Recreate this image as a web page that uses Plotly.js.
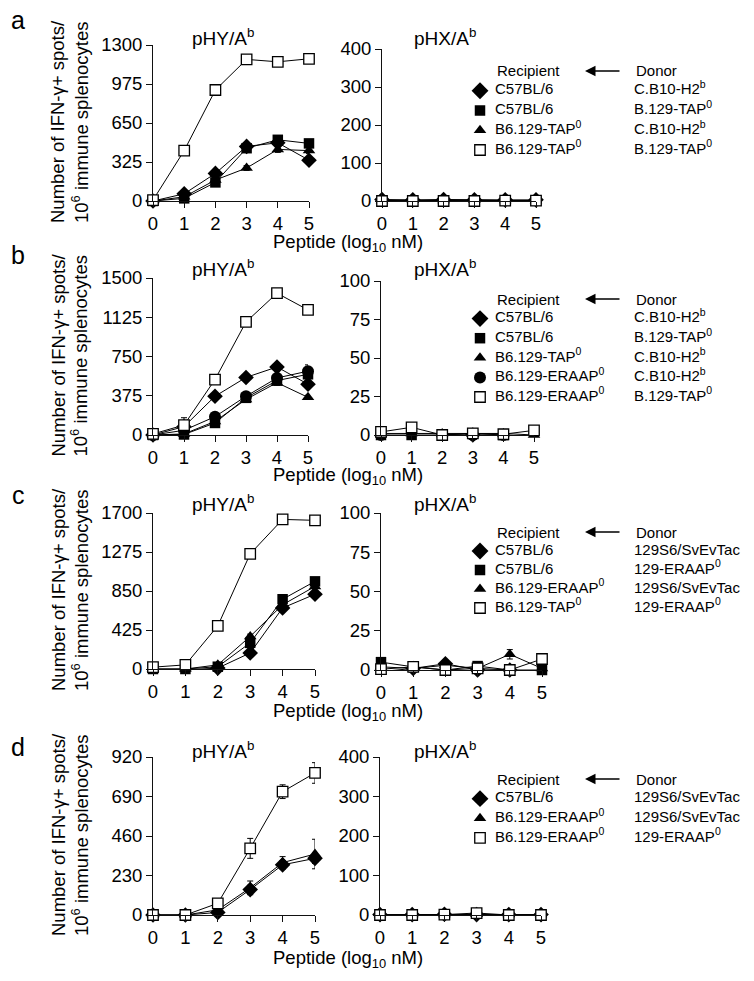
<!DOCTYPE html>
<html><head><meta charset="utf-8">
<script src="https://cdn.plot.ly/plotly-3.0.1.min.js"></script>
<style>html,body{margin:0;padding:0;background:#fff}</style>
</head><body><div id="chart" style="width:754px;height:981px"></div>
<script>
// ---------------- DATA ----------------
const dose = [0, 1, 2, 3, 4, 5];            // Peptide (log10 nM)
const doseTicks = [0, 1, 2, 3, 4, 5];

// Panel a
const aHYTicks = [0, 325, 650, 975, 1300];
const aHXTicks = [0, 100, 200, 300, 400];
const aRecipients = ['C57BL/6', 'C57BL/6', 'B6.129-TAP<sup>0</sup>', 'B6.129-TAP<sup>0</sup>'];
const aDonors = ['C.B10-H2<sup>b</sup>', 'B.129-TAP<sup>0</sup>', 'C.B10-H2<sup>b</sup>', 'B.129-TAP<sup>0</sup>'];
const aMarkers = ['diamond', 'square', 'triangle', 'open'];
const aHY_diamond = [0, 60, 230, 455, 485, 340];
const aHY_square = [0, 22, 155, 440, 510, 480];
const aHY_triangle = [0, 35, 175, 275, 430, 420];
const aHY_open = [8, 420, 925, 1180, 1160, 1185];
const aHYErr_diamond = [5, 15, 20, 20, 25, 25];
const aHYErr_square = [5, 10, 15, 20, 20, 20];
const aHYErr_triangle = [5, 10, 15, 20, 25, 25];
const aHYErr_open = [5, 20, 45, 15, 15, 15];
const aHX_diamond = [4, 3, 4, 3, 3, 3];
const aHX_square = [0, 1, 0, 1, 1, 1];
const aHX_triangle = [1, 2, 1, 2, 1, 1];
const aHX_open = [0, 0, 0, 0, 1, 1];
const aHXErr = [3, 3, 3, 3, 3, 3];

// Panel b
const bHYTicks = [0, 375, 750, 1125, 1500];
const bHXTicks = [0, 25, 50, 75, 100];
const bRecipients = ['C57BL/6', 'C57BL/6', 'B6.129-TAP<sup>0</sup>', 'B6.129-ERAAP<sup>0</sup>', 'B6.129-ERAAP<sup>0</sup>'];
const bDonors = ['C.B10-H2<sup>b</sup>', 'B.129-TAP<sup>0</sup>', 'C.B10-H2<sup>b</sup>', 'C.B10-H2<sup>b</sup>', 'B.129-TAP<sup>0</sup>'];
const bMarkers = ['diamond', 'square', 'triangle', 'circle', 'open'];
const bHY_diamond = [0, 80, 370, 550, 650, 485];
const bHY_square = [0, 5, 115, 355, 520, 580];
const bHY_triangle = [0, 10, 130, 340, 500, 360];
const bHY_circle = [0, 45, 175, 370, 545, 610];
const bHY_open = [10, 95, 530, 1080, 1355, 1195];
const bHYErr_diamond = [5, 15, 20, 25, 20, 25];
const bHYErr_square = [5, 5, 15, 20, 20, 30];
const bHYErr_triangle = [5, 5, 15, 20, 25, 20];
const bHYErr_circle = [5, 10, 15, 20, 30, 60];
const bHYErr_open = [5, 70, 20, 20, 45, 30];
const bHX_diamond = [-2, -2, -1, 0, -1, -2];
const bHX_square = [0, 0, 0, 1, 0, -1];
const bHX_triangle = [1, 1, 1, 1, 1, 0];
const bHX_circle = [0, -1, 0, 0, 0, -1];
const bHX_open = [2, 5, 0, 1, 0.5, 3];
const bHXErr = [1, 1, 1, 1, 1, 1];

// Panel c
const cHYTicks = [0, 425, 850, 1275, 1700];
const cHXTicks = [0, 25, 50, 75, 100];
const cRecipients = ['C57BL/6', 'C57BL/6', 'B6.129-ERAAP<sup>0</sup>', 'B6.129-TAP<sup>0</sup>'];
const cDonors = ['129S6/SvEvTac', '129-ERAAP<sup>0</sup>', '129S6/SvEvTac', '129-ERAAP<sup>0</sup>'];
const cMarkers = ['diamond', 'square', 'triangle', 'open'];
const cHY_diamond = [-15, -10, 10, 175, 665, 815];
const cHY_square = [0, 0, 25, 285, 760, 955];
const cHY_triangle = [0, 0, 45, 355, 700, 900];
const cHY_open = [20, 45, 470, 1255, 1630, 1620];
const cHYErr_diamond = [5, 5, 10, 20, 25, 40];
const cHYErr_square = [5, 5, 10, 20, 20, 30];
const cHYErr_triangle = [5, 5, 10, 25, 20, 30];
const cHYErr_open = [5, 5, 15, 15, 15, 15];
const cHX_diamond = [-1, 1, 4, 0, 0, -1];
const cHX_square = [5, 2, 0, 2.5, 0, 0];
const cHX_triangle = [2, 1, 3, 1, 10, 1];
const cHX_open = [0.5, 2, 0, 1, 0, 7];
const cHXErr_triangle = [1, 1, 1, 1, 3, 1];
const cHXErr = [1, 1, 1, 1, 1, 1];

// Panel d
const dHYTicks = [0, 230, 460, 690, 920];
const dHXTicks = [0, 100, 200, 300, 400];
const dRecipients = ['C57BL/6', 'B6.129-ERAAP<sup>0</sup>', 'B6.129-ERAAP<sup>0</sup>'];
const dDonors = ['129S6/SvEvTac', '129S6/SvEvTac', '129-ERAAP<sup>0</sup>'];
const dMarkers = ['diamond', 'triangle', 'open'];
const dHY_diamond = [0, 0, 15, 148, 292, 330];
const dHY_triangle = [0, 0, 30, 158, 305, 355];
const dHY_open = [0, 0, 68, 388, 718, 827];
const dHYErr_diamond = [5, 5, 10, 25, 25, 30];
const dHYErr_triangle = [5, 5, 10, 40, 35, 86];
const dHYErr_open = [5, 5, 5, 58, 40, 60];
const dHX_diamond = [1, 1, 2, 1, 1, 1];
const dHX_triangle = [1, 1, 1, 2, 1, 1];
const dHX_open = [0, 0, 1, 5, 0, 0];
const dHXErr = [3, 3, 3, 3, 3, 3];

// ---------------- STYLE / LAYOUT ----------------
const W = 754, H = 981;
const FONT = 'Liberation Sans, Arial, Helvetica, sans-serif';
const INK = '#111';
const TICK_SIZE = 18.5, TITLE_SIZE = 19, LEG_SIZE = 15;
const markerStyles = {
  diamond:  {symbol: 'diamond', size: 12, color: '#000', line: {width: 0}},
  square:   {symbol: 'square', size: 10.5, color: '#000', line: {width: 0}},
  triangle: {symbol: 'triangle-up', size: 11, color: '#000', line: {width: 0}},
  circle:   {symbol: 'circle', size: 12, color: '#000', line: {width: 0}},
  open:     {symbol: 'square', size: 10.5, color: '#fff', line: {color: '#000', width: 1.3}}
};

const panels = [
  {letter: 'a', letterY: 20, xTitleY: 243, titleY: 37,
   L: {x: [153, 309], y: [45, 201]}, R: {x: [382, 536], y: [49, 201]}, leg: [61.1, 159.9],
   hyTicks: aHYTicks, hxTicks: aHXTicks, recipients: aRecipients, donors: aDonors, markers: aMarkers,
   hy: [aHY_diamond, aHY_square, aHY_triangle, aHY_open],
   hyErr: [aHYErr_diamond, aHYErr_square, aHYErr_triangle, aHYErr_open],
   hx: [aHX_diamond, aHX_square, aHX_triangle, aHX_open],
   hxErr: [aHXErr, aHXErr, aHXErr, aHXErr]},
  {letter: 'b', letterY: 255, xTitleY: 476, titleY: 268,
   L: {x: [153, 308], y: [278, 435]}, R: {x: [381, 534], y: [281, 435]}, leg: [289.2, 406.8],
   hyTicks: bHYTicks, hxTicks: bHXTicks, recipients: bRecipients, donors: bDonors, markers: bMarkers,
   hy: [bHY_diamond, bHY_square, bHY_triangle, bHY_circle, bHY_open],
   hyErr: [bHYErr_diamond, bHYErr_square, bHYErr_triangle, bHYErr_circle, bHYErr_open],
   hx: [bHX_diamond, bHX_square, bHX_triangle, bHX_circle, bHX_open],
   hxErr: [bHXErr, bHXErr, bHXErr, bHXErr, bHXErr]},
  {letter: 'c', letterY: 495, xTitleY: 712, titleY: 503,
   L: {x: [153, 315], y: [513, 669]}, R: {x: [381, 542], y: [513, 670]}, leg: [522.5, 617.5],
   hyTicks: cHYTicks, hxTicks: cHXTicks, recipients: cRecipients, donors: cDonors, markers: cMarkers,
   hy: [cHY_diamond, cHY_square, cHY_triangle, cHY_open],
   hyErr: [cHYErr_diamond, cHYErr_square, cHYErr_triangle, cHYErr_open],
   hx: [cHX_diamond, cHX_square, cHX_triangle, cHX_open],
   hxErr: [cHXErr, cHXErr, cHXErr_triangle, cHXErr]},
  {letter: 'd', letterY: 747, xTitleY: 959, titleY: 750,
   L: {x: [153, 315], y: [757, 915]}, R: {x: [380, 541], y: [757, 915]}, leg: [769.2, 847.8],
   hyTicks: dHYTicks, hxTicks: dHXTicks, recipients: dRecipients, donors: dDonors, markers: dMarkers,
   hy: [dHY_diamond, dHY_triangle, dHY_open],
   hyErr: [dHYErr_diamond, dHYErr_triangle, dHYErr_open],
   hx: [dHX_diamond, dHX_triangle, dHX_open],
   hxErr: [dHXErr, dHXErr, dHXErr]}
];
const legCols = {symbol: 480, recipient: 495, arrowHead: 585, arrowTail: 621, donor: 634};
const yTitleCols = [58, 80];

const px = v => v / W;
const py = v => 1 - v / H;

const layout = {
  width: W, height: H,
  margin: {l: 0, r: 0, t: 0, b: 0},
  paper_bgcolor: '#fff', plot_bgcolor: 'rgba(0,0,0,0)',
  showlegend: false,
  font: {family: FONT, color: '#000'},
  annotations: []
};
const data = [];

function dataAxis(dom, range, ticks, anchor, isX) {
  return {
    domain: isX ? [px(dom[0]), px(dom[1])] : [py(dom[1]), py(dom[0])],
    range: range, anchor: anchor,
    tickmode: 'array', tickvals: ticks, ticktext: ticks.map(String),
    showline: true, linecolor: INK, linewidth: 1,
    ticks: 'outside', ticklen: 6, tickwidth: 1, tickcolor: INK,
    showgrid: false, zeroline: false, fixedrange: true,
    tickfont: {family: FONT, size: TICK_SIZE, color: '#000'}
  };
}

function addSeries(xa, ya, values, errs, markers) {
  values.forEach((vals, i) => {
    data.push({
      type: 'scatter', mode: 'lines+markers', x: dose, y: vals,
      xaxis: xa, yaxis: ya, cliponaxis: false,
      line: {color: '#000', width: 1},
      marker: markerStyles[markers[i]],
      error_y: {type: 'data', array: errs[i], visible: true, color: '#000', thickness: 1, width: 3},
      hoverinfo: 'skip'
    });
  });
}

panels.forEach((p, k) => {
  const iL = 2 * k + 1, iR = 2 * k + 2, iG = 9 + k;
  const sfx = i => (i === 1 ? '' : String(i));
  const n = p.recipients.length;
  // data axes
  layout['xaxis' + sfx(iL)] = dataAxis(p.L.x, [0, 5], doseTicks, 'y' + sfx(iL), true);
  layout['yaxis' + sfx(iL)] = dataAxis(p.L.y, [0, p.hyTicks[p.hyTicks.length - 1]], p.hyTicks, 'x' + sfx(iL), false);
  layout['xaxis' + iR] = dataAxis(p.R.x, [0, 5], doseTicks, 'y' + iR, true);
  layout['yaxis' + iR] = dataAxis(p.R.y, [0, p.hxTicks[p.hxTicks.length - 1]], p.hxTicks, 'x' + iR, false);
  // legend axes (hidden)
  layout['xaxis' + iG] = {domain: [0, 1], range: [0, W], visible: false, fixedrange: true, anchor: 'y' + iG};
  layout['yaxis' + iG] = {domain: [py(p.leg[1]), py(p.leg[0])], range: [n - 0.5, -1.5], visible: false, fixedrange: true, anchor: 'x' + iG};

  addSeries('x' + sfx(iL), 'y' + sfx(iL), p.hy, p.hyErr, p.markers);
  addSeries('x' + iR, 'y' + iR, p.hx, p.hxErr, p.markers);

  // legend symbols, recipients, donors
  const rows = p.recipients.map((_, i) => i);
  p.markers.forEach((m, i) => {
    const st = Object.assign({}, markerStyles[m]);
    if (m === 'diamond') st.size = 13;
    data.push({type: 'scatter', mode: 'markers', x: [legCols.symbol], y: [rows[i]],
      xaxis: 'x' + iG, yaxis: 'y' + iG, marker: st, cliponaxis: false, hoverinfo: 'skip'});
  });
  data.push({type: 'scatter', mode: 'text', x: rows.map(() => legCols.recipient), y: rows,
    text: p.recipients, textposition: 'middle right', textfont: {family: FONT, size: LEG_SIZE, color: '#000'},
    xaxis: 'x' + iG, yaxis: 'y' + iG, cliponaxis: false, hoverinfo: 'skip'});
  data.push({type: 'scatter', mode: 'text', x: rows.map(() => legCols.donor), y: rows,
    text: p.donors, textposition: 'middle right', textfont: {family: FONT, size: LEG_SIZE, color: '#000'},
    xaxis: 'x' + iG, yaxis: 'y' + iG, cliponaxis: false, hoverinfo: 'skip'});

  const ann = layout.annotations;
  ann.push({xref: 'x' + iG, yref: 'y' + iG, x: legCols.recipient, y: -1, text: 'Recipient', showarrow: false,
    xanchor: 'left', yanchor: 'middle', font: {family: FONT, size: LEG_SIZE, color: '#000'}});
  ann.push({xref: 'x' + iG, yref: 'y' + iG, x: legCols.donor, y: -1, text: 'Donor', showarrow: false,
    xanchor: 'left', yanchor: 'middle', font: {family: FONT, size: LEG_SIZE, color: '#000'}});
  ann.push({xref: 'x' + iG, yref: 'y' + iG, x: legCols.arrowHead, y: -1, text: '', showarrow: true,
    axref: 'x' + iG, ayref: 'y' + iG, ax: legCols.arrowTail, ay: -1,
    arrowhead: 2, arrowsize: 1.4, arrowwidth: 1.5, arrowcolor: '#000'});

  // panel letter
  ann.push({xref: 'paper', yref: 'paper', x: px(18), y: py(p.letterY), text: p.letter, showarrow: false,
    xanchor: 'center', yanchor: 'middle', font: {family: FONT, size: 25, color: '#000'}});
  // subplot titles
  ann.push({xref: 'paper', yref: 'paper', x: px(223), y: py(p.titleY), text: 'pHY/A<sup>b</sup>', showarrow: false,
    xanchor: 'center', yanchor: 'middle', font: {family: FONT, size: TITLE_SIZE, color: '#000'}});
  ann.push({xref: 'paper', yref: 'paper', x: px(445), y: py(p.titleY), text: 'pHX/A<sup>b</sup>', showarrow: false,
    xanchor: 'center', yanchor: 'middle', font: {family: FONT, size: TITLE_SIZE, color: '#000'}});
  // y title (two lines)
  const yc = (p.L.y[0] + p.L.y[1]) / 2 - 1;
  ann.push({xref: 'paper', yref: 'paper', x: px(yTitleCols[0]), y: py(yc), textangle: -90,
    text: 'Number of IFN-γ+ spots/', showarrow: false,
    xanchor: 'center', yanchor: 'middle', font: {family: FONT, size: TICK_SIZE, color: '#000'}});
  ann.push({xref: 'paper', yref: 'paper', x: px(yTitleCols[1]), y: py(yc), textangle: -90,
    text: '10<sup>6</sup> immune splenocytes', showarrow: false,
    xanchor: 'center', yanchor: 'middle', font: {family: FONT, size: TICK_SIZE, color: '#000'}});
  // x title
  ann.push({xref: 'paper', yref: 'paper', x: px(348), y: py(p.xTitleY), text: 'Peptide (log<sub>10</sub> nM)', showarrow: false,
    xanchor: 'center', yanchor: 'middle', font: {family: FONT, size: TICK_SIZE, color: '#000'}});
});

Plotly.newPlot('chart', data, layout, {staticPlot: true, displayModeBar: false});
</script></body></html>
